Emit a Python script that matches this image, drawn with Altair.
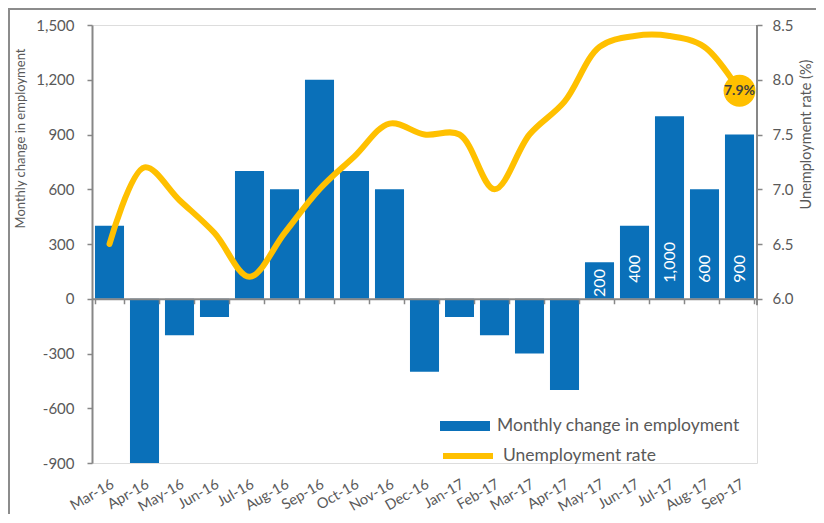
import altair as alt
import pandas as pd

months = ["Mar-16", "Apr-16", "May-16", "Jun-16", "Jul-16", "Aug-16", "Sep-16", "Oct-16",
          "Nov-16", "Dec-16", "Jan-17", "Feb-17", "Mar-17", "Apr-17", "May-17", "Jun-17",
          "Jul-17", "Aug-17", "Sep-17"]
emp_change = [400, -900, -200, -100, 700, 600, 1200, 700, 600, -400,
              -100, -200, -300, -500, 200, 400, 1000, 600, 900]
unemp_rate = [6.5, 7.2, 6.9, 6.6, 6.2, 6.6, 7.0, 7.3, 7.6, 7.5,
              7.5, 7.0, 7.5, 7.8, 8.3, 8.4, 8.4, 8.3, 7.9]
bar_labels = [""] * 14 + ["200", "400", "1,000", "600", "900"]
marker_labels = [""] * 18 + ["7.9%"]
left_ticks = [-900, -600, -300, 0, 300, 600, 900, 1200, 1500]
right_ticks = [6.0, 6.5, 7.0, 7.5, 8.0, 8.5]

BAR_SERIES = "Monthly change in employment"
LINE_SERIES = "Unemployment rate"

df = pd.DataFrame({
    "month": months,
    "emp": emp_change,
    "rate": unemp_rate,
    "label": bar_labels,
    "marker_text": marker_labels,
})
df["bar_series"] = BAR_SERIES
df["line_series"] = LINE_SERIES

W, H = 665, 438
zero_offset = -(H - H * 1500 / 2400)

AXIS_GRAY = "#878787"
TEXT = "#595959"
BLUE = "#0A70B9"
GOLD = "#FFC000"
FONT = "Lato"

xscale = alt.Scale(paddingInner=0.17)

x_bottom = alt.X("month:N", sort=months, title=None, scale=xscale,
                 axis=alt.Axis(orient="bottom", domain=False, ticks=False, labelAngle=-30,
                               labelAlign="right", labelBaseline="top", labelPadding=14,
                               labelFontSize=14.5, labelColor=TEXT, labelFont=FONT))
x_zero = alt.X("month:N", sort=months, title=None, scale=xscale,
               axis=alt.Axis(orient="bottom", offset=zero_offset, labels=False, domain=True,
                             domainColor=AXIS_GRAY, domainWidth=2, ticks=True, tickBand="extent",
                             tickSize=5, tickColor=AXIS_GRAY, tickWidth=1.5, zindex=1))

left_scale = alt.Scale(domain=[-900, 1500], nice=False)
left_axis = alt.Axis(orient="left", values=left_ticks, grid=False,
                     labelExpr="(datum.value < 0 ? '-' : '') + format(abs(datum.value), ',')",
                     domainColor=AXIS_GRAY, domainWidth=2, tickColor=AXIS_GRAY, tickWidth=1.5,
                     tickSize=5, labelPadding=13, labelFontSize=15, labelColor=TEXT, labelFont=FONT,
                     title="Monthly change in employment", titleFontSize=13, titleColor=TEXT,
                     titleFont=FONT, titleFontWeight="normal", titleAngle=270, titleX=-72,
                     titleY=113, titleAlign="center", titleBaseline="middle")

right_scale = alt.Scale(domain=[4.5, 8.5], nice=False, zero=False)
right_axis = alt.Axis(orient="right", values=right_ticks, format=".1f", grid=False, domain=False,
                      tickColor=AXIS_GRAY, tickWidth=1.5, tickSize=5, labelPadding=10,
                      labelFontSize=15, labelColor=TEXT, labelFont=FONT,
                      title="Unemployment rate (%)", titleFontSize=14.5, titleColor=TEXT,
                      titleFont=FONT, titleFontWeight="normal", titleAngle=270, titleX=49,
                      titleY=109, titleAlign="center", titleBaseline="middle")

bars = alt.Chart(df).mark_bar().encode(
    x=x_bottom,
    y=alt.Y("emp:Q", scale=left_scale, axis=left_axis, stack=None),
    fill=alt.Fill("bar_series:N", scale=alt.Scale(domain=[BAR_SERIES], range=[BLUE]),
                  legend=alt.Legend(title=None, orient="none", legendX=348, legendY=376,
                                    symbolType="M-1,-0.2L1,-0.2L1,0.2L-1,0.2Z", symbolSize=2500,
                                    symbolStrokeWidth=0, symbolOpacity=1, labelFontSize=17.5,
                                    labelColor=TEXT, labelFont=FONT, labelOffset=7, padding=0,
                                    labelLimit=400)),
)

bar_text = alt.Chart(df).transform_filter("datum.label != ''").transform_calculate(
    lpos="min(88, datum.emp - 190)"
).mark_text(angle=270, align="left", baseline="middle", color="white", fontSize=16, font=FONT).encode(
    x=x_bottom,
    y=alt.Y("lpos:Q", scale=left_scale, axis=left_axis),
    text="label:N",
)

bar_group = alt.layer(bars, bar_text)

line = alt.Chart(df).mark_line(interpolate="catmull-rom", strokeWidth=6, strokeCap="round",
                               strokeJoin="round").encode(
    x=x_zero,
    y=alt.Y("rate:Q", scale=right_scale, axis=right_axis),
    stroke=alt.Stroke("line_series:N", scale=alt.Scale(domain=[LINE_SERIES], range=[GOLD]),
                      legend=alt.Legend(title=None, orient="none", legendX=348, legendY=403,
                                        symbolType="stroke", symbolSize=2500, symbolStrokeWidth=6,
                                        labelFontSize=17.5, labelColor=TEXT, labelFont=FONT,
                                        labelOffset=7, padding=0, labelLimit=400)),
)

marker = alt.Chart(df).transform_filter("datum.marker_text != ''").mark_circle(
    size=1018, opacity=1, color=GOLD).encode(
    x=x_zero,
    y=alt.Y("rate:Q", scale=right_scale, axis=right_axis),
)

marker_text = alt.Chart(df).transform_filter("datum.marker_text != ''").mark_text(
    fontSize=14, fontWeight="bold", color="#404040", font=FONT).encode(
    x=x_zero,
    y=alt.Y("rate:Q", scale=right_scale, axis=right_axis),
    text="marker_text:N",
)

right_rule = alt.Chart(df).transform_filter("datum.marker_text != ''").mark_rule(
    color=AXIS_GRAY, strokeWidth=2).encode(
    x=alt.value(W),
    y=alt.YDatum(8.5, scale=right_scale, axis=right_axis),
    y2=alt.Y2Datum(5.94),
)

line_group = alt.layer(line, right_rule, marker, marker_text)

frame = alt.Chart(df).transform_filter("datum.marker_text != ''").mark_rect(
    fillOpacity=0, stroke="#8c8c8c", strokeWidth=2).encode(
    x=alt.value(-83), x2=alt.value(W + 200), y=alt.value(-16), y2=alt.value(H + 200)
)

chart = alt.layer(frame, bar_group, line_group).resolve_scale(
    y="independent"
).resolve_axis(x="independent").properties(
    width=W, height=H,
    autosize=alt.AutoSizeParams(type="none"),
    padding={"left": 84, "top": 17, "right": 59, "bottom": 51},
).configure_view(strokeWidth=0).configure(font=FONT)

chart.save("out.html", embed_options={"renderer": "svg", "actions": False})
